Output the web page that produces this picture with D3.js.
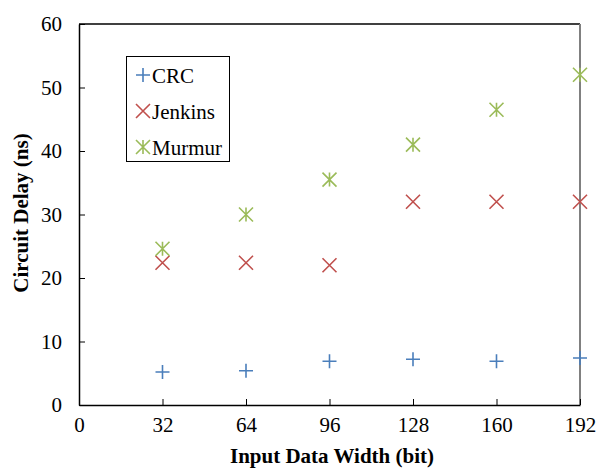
<!DOCTYPE html>
<html><head><meta charset="utf-8">
<script src="https://cdn.jsdelivr.net/npm/d3@7"></script>
<style>body{margin:0;background:#fff}svg{display:block}text{font-family:"Liberation Serif","Times New Roman",serif}</style>
</head><body><svg id="c" width="598" height="469"></svg>
<script>
const widths = [32, 64, 96, 128, 160, 192];
const crc = [5.2, 5.4, 6.9, 7.2, 6.9, 7.4];
const jenkins = [22.4, 22.4, 22.0, 32.0, 32.0, 32.0];
const murmur = [24.6, 30.0, 35.5, 41.0, 46.5, 52.0];
const seriesNames = ["CRC", "Jenkins", "Murmur"];
const xTicks = [0, 32, 64, 96, 128, 160, 192];
const yTicks = [0, 10, 20, 30, 40, 50, 60];

const colors = {CRC: "#4a7ebb", Jenkins: "#c0504d", Murmur: "#9bbb59"};
const svg = d3.select("#c");
const m = {l: 79, t: 24, r: 580, b: 405};
const x = d3.scaleLinear().domain([0, 192]).range([m.l, m.r]);
const y = d3.scaleLinear().domain([0, 60]).range([m.b, m.t]);

// frame: top black, right grey
svg.append("line").attr("x1", m.l).attr("x2", m.r).attr("y1", m.t).attr("y2", m.t).attr("stroke", "#000").attr("stroke-width", 1.3);
svg.append("line").attr("x1", m.r).attr("x2", m.r).attr("y1", m.t).attr("y2", m.b).attr("stroke", "#808080").attr("stroke-width", 2);

const xAxis = svg.append("g").attr("transform", `translate(0,${m.b})`)
  .call(d3.axisBottom(x).tickValues(xTicks).tickSizeInner(-6).tickSizeOuter(0).tickPadding(12));
const yAxis = svg.append("g").attr("transform", `translate(${m.l},0)`)
  .call(d3.axisLeft(y).tickValues(yTicks).tickSizeInner(-6).tickSizeOuter(0).tickPadding(17));
[xAxis, yAxis].forEach(a => {
  a.selectAll("path").attr("stroke", "#000").attr("stroke-width", 1.5);
  a.selectAll("line").attr("stroke", "#000").attr("stroke-width", 1);
  a.selectAll("text").attr("font-family", "Liberation Serif").attr("font-size", 21).attr("fill", "#000");
});
xAxis.selectAll(".tick").filter(d => d === 0).select("line").remove();

svg.append("text").attr("x", 332).attr("y", 463).attr("text-anchor", "middle")
  .attr("font-size", 21).attr("font-weight", "bold").text("Input Data Width (bit)");
svg.append("text").attr("transform", "translate(28,213) rotate(-90)").attr("text-anchor", "middle")
  .attr("font-size", 21).attr("font-weight", "bold").text("Circuit Delay (ns)");

const s = 7;
function marker(g, name, cx, cy) {
  const c = colors[name];
  const p = g.append("path").attr("fill", "none").attr("stroke", c).attr("stroke-width", 1.6);
  if (name === "CRC") {
    p.attr("d", `M${cx - s},${cy}H${cx + s}M${cx},${cy - s}V${cy + s}`);
  } else if (name === "Jenkins") {
    p.attr("d", `M${cx - s},${cy - s}L${cx + s},${cy + s}M${cx - s},${cy + s}L${cx + s},${cy - s}`);
  } else {
    p.attr("d", `M${cx - s},${cy - s}L${cx + s},${cy + s}M${cx - s},${cy + s}L${cx + s},${cy - s}M${cx},${cy - s}V${cy + s}`);
  }
}
const data = {CRC: crc, Jenkins: jenkins, Murmur: murmur};
const pts = svg.append("g");
seriesNames.forEach(n => data[n].forEach((v, i) => marker(pts, n, x(widths[i]), y(v))));

// legend
const lg = svg.append("g");
lg.append("rect").attr("x", 126.5).attr("y", 56.5).attr("width", 103).attr("height", 105)
  .attr("fill", "#fff").attr("stroke", "#000").attr("stroke-width", 1);
seriesNames.forEach((n, i) => {
  const cy = 75 + i * 36;
  marker(lg, n, 143, cy);
  lg.append("text").attr("x", 152).attr("y", cy + 8).attr("font-size", 21).text(n);
});
</script></body></html>
